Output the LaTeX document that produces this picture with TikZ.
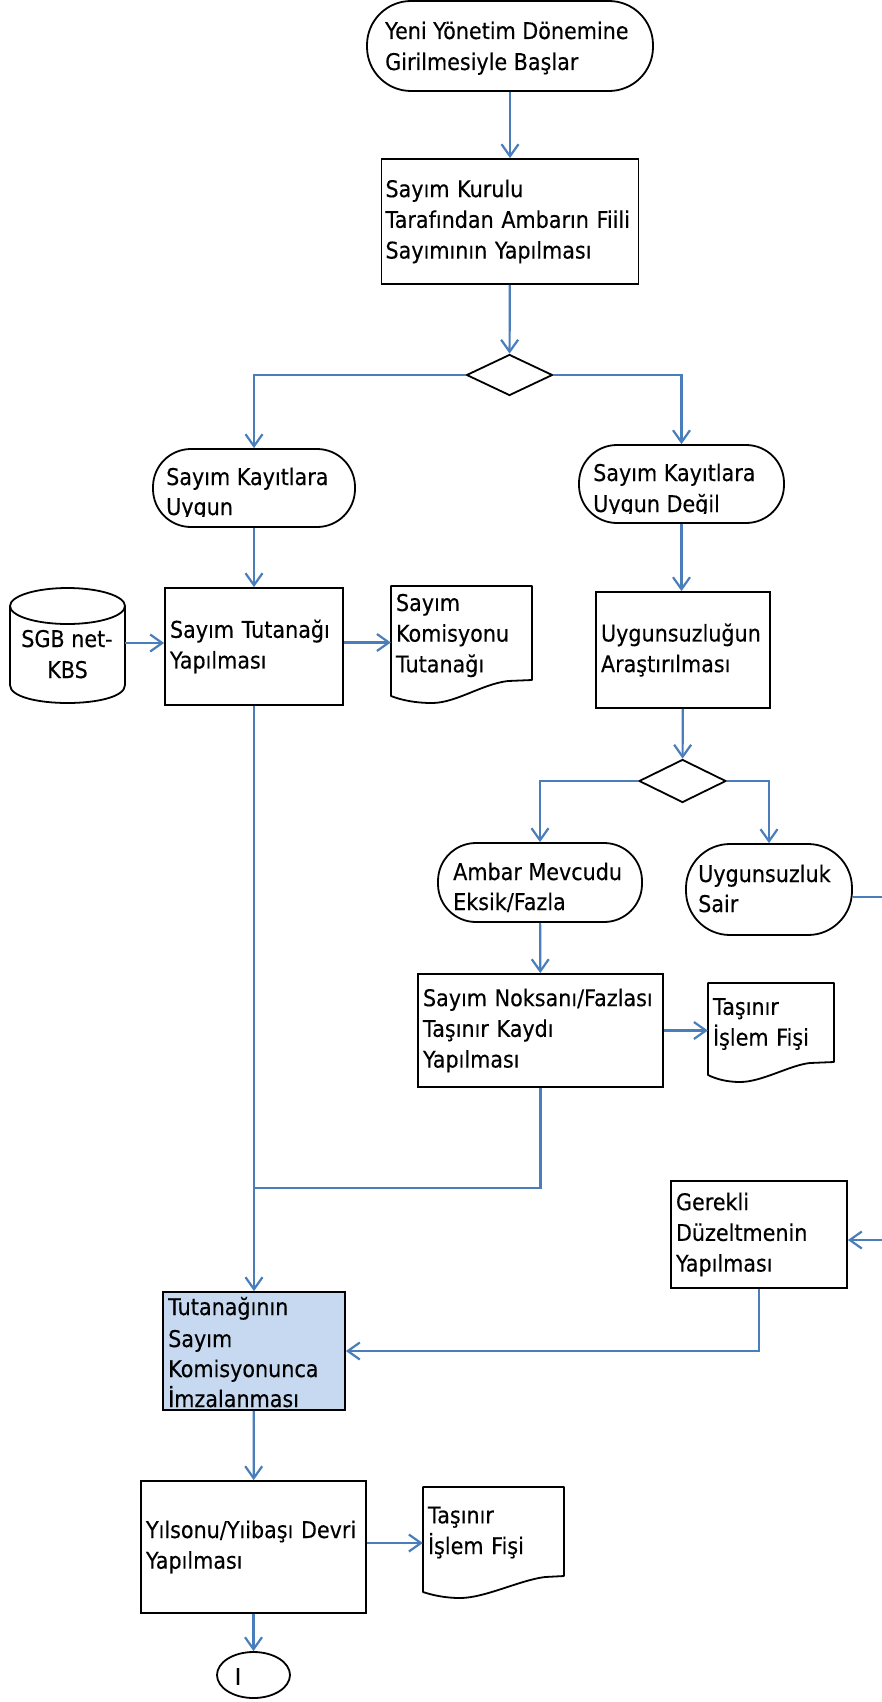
\documentclass[tikz,border=0pt]{standalone}
\usepackage{fontspec}
\setmainfont{DejaVu Sans}[FakeStretch=0.9,FakeBold=0.3]
\usetikzlibrary{arrows.meta,shapes.geometric,calc}
\definecolor{conn}{RGB}{74,126,187}
\definecolor{fillblue}{RGB}{198,217,240}
\begin{document}
\begin{tikzpicture}[x=1pt,y=-1pt,
  every node/.style={font=\fontsize{23}{30.7}\selectfont},
  pbox/.style={draw, line width=1.8pt, rectangle, align=left, inner ysep=0pt, inner xsep=5pt},
  term/.style={draw, line width=1.8pt, rectangle, inner sep=0pt},
  dia/.style={draw, line width=1.8pt, diamond, inner sep=0pt},
  lbl/.style={anchor=base west, inner sep=0pt},
  clbl/.style={anchor=base, inner sep=0pt},
  docn/.style={rectangle, align=left, inner ysep=0pt, inner xsep=5pt},
  flow/.style={draw=conn, line width=2.2pt, -{Straight Barb[length=12pt,width=17pt]}},
  wire/.style={draw=conn, line width=2.2pt},
  shp/.style={draw, line width=1.8pt, line join=round}
]
\useasboundingbox (0,0) rectangle (882,1702);

% start terminal
\node[term, rounded corners=44pt, minimum width=286pt, minimum height=90pt] (start) at (510,46) {};
\node[lbl] (start1) at (385,39) {Yeni Yönetim Dönemine};
\node[lbl] (start2) at (385,70) {Girilmesiyle Başlar};

\node[pbox, minimum width=257pt, minimum height=125pt, text width=249pt, inner xsep=4pt] (b2) at (510,221.5) {Sayım Kurulu\\Tarafından Ambarın Fiili\\Sayımının Yapılması};

\node[dia, minimum width=86pt, minimum height=41pt] (d1) at (509.5,375) {};

% left terminal
\node[term, rounded corners=38pt, minimum width=202pt, minimum height=78pt] (tl) at (254,488) {};
\begin{scope}
\clip (150,440) rectangle (360,516);
\node[lbl] (tl1) at (166,485) {Sayım Kayıtlara};
\node[lbl] (tl2) at (166,515) {Uygun};
\end{scope}

% right terminal
\node[term, rounded corners=38pt, minimum width=205pt, minimum height=78pt] (tr) at (681.5,484) {};
\begin{scope}
\clip (575,440) rectangle (790,513);
\node[lbl] (tr1) at (593,481) {Sayım Kayıtlara};
\node[lbl] (tr2) at (593,512) {Uygun Değil};
\end{scope}

\node[pbox, minimum width=178pt, minimum height=117pt, text width=168pt] (bt) at (254,646.5) {Sayım Tutanağı\\Yapılması};

% cylinder
\node[minimum width=115pt, minimum height=115pt, inner sep=0pt] (cyl) at (67.5,645.5) {};
\draw[shp] (67.5,606) ellipse [x radius=57.5, y radius=18];
\draw[shp] (10,606) -- (10,685) .. controls (10,709) and (125,709) .. (125,685) -- (125,606);
\node[clbl] (cyl1) at (67,647) {SGB net-};
\node[clbl] (cyl2) at (67.5,678) {KBS};

% document 1
\draw[shp] (391,586) -- (532,586) -- (532,680) -- (508,681) .. controls (482,684) and (456,703) .. (432,703) .. controls (415,703) and (401,700) .. (391,696) -- cycle;
\node[docn, minimum width=141pt, minimum height=99pt, text width=131pt] (dc1) at (461.5,635.5) {Sayım\\Komisyonu\\Tutanağı};

\node[pbox, minimum width=174pt, minimum height=116pt, text width=164pt] (bu) at (683,650) {Uygunsuzluğun\\Araştırılması};

\node[dia, minimum width=87pt, minimum height=43pt] (d2) at (682.5,781) {};

\node[term, rounded corners=38pt, minimum width=204pt, minimum height=79pt] (ta) at (540,882.5) {};
\node[lbl] (ta1) at (453,880) {Ambar Mevcudu};
\node[lbl] (ta2) at (453,910) {Eksik/Fazla};

\node[term, rounded corners=44pt, minimum width=166pt, minimum height=91pt] (ts) at (769,889.5) {};
\node[lbl] (ts1) at (698,882) {Uygunsuzluk};
\node[lbl] (ts2) at (698,912) {Sair};

\node[pbox, minimum width=245pt, minimum height=113pt, text width=235pt] (bn) at (540.5,1030.5) {Sayım Noksanı/Fazlası\\Taşınır Kaydı\\Yapılması};

% document 2
\draw[shp] (708,983) -- (834,983) -- (834,1062) -- (810,1063) .. controls (790,1065) and (762,1082) .. (740,1082) .. controls (727,1082) and (716,1079) .. (708,1075) -- cycle;
\node[docn, minimum width=126pt, minimum height=82pt, text width=116pt] (dc2) at (771,1024) {Taşınır\\İşlem Fişi};

\node[pbox, minimum width=176pt, minimum height=107pt, text width=166pt] (bg) at (759,1234.5) {Gerekli\\Düzeltmenin\\Yapılması};

% signed box
\node[draw, line width=1.8pt, fill=fillblue, minimum width=182pt, minimum height=118pt, inner sep=0pt] (bi) at (254,1351) {};
\node[lbl] (bi1) at (168,1315) {Tutanağının};
\node[lbl] (bi2) at (168,1347) {Sayım};
\node[lbl] (bi3) at (168,1377) {Komisyonunca};
\node[lbl] (bi4) at (168,1407) {İmzalanması};

\node[pbox, minimum width=225pt, minimum height=132pt, text width=215pt] (by) at (253.5,1547) {Yılsonu/Yıibaşı Devri\\Yapılması};

% document 3
\draw[shp] (423,1487) -- (564,1487) -- (564,1576) -- (545,1577) .. controls (520,1580) and (485,1598) .. (460,1598) .. controls (445,1598) and (432,1595) .. (423,1592) -- cycle;
\node[docn, minimum width=141pt, minimum height=91pt, text width=131pt] (dc3) at (493.5,1532.5) {Taşınır\\İşlem Fişi};

\node[draw, line width=1.8pt, ellipse, minimum width=73pt, minimum height=46pt, inner sep=0pt] (en) at (253.5,1675) {};
\node[inner sep=0pt] (ent) at (238,1676.5) {I};

% coordinates
\coordinate (jn) at (254,1188);
\coordinate (offA) at (882,897);
\coordinate (offB) at (882,1240);
\coordinate (cylE) at ($(cyl.east)+(0,-2.5)$);
\coordinate (btE) at ($(bt.east)+(0,-4)$);
\coordinate (byE) at ($(by.east)+(0,-4)$);

% connectors
\draw[flow] (start) -- (b2);
\draw[flow] (b2) -- (d1);
\draw[flow] (d1.west) -| (tl.north);
\draw[flow] (d1.east) -| (tr.north);
\draw[flow] (tl) -- (bt);
\draw[flow] (tr.south) -- (tr.south |- bu.north);
\draw[flow] (bu) -- (d2);
\draw[flow] (d2.west) -| (ta.north);
\draw[flow] (d2.east) -| (ts.north);
\draw[flow] (ta) -- (bn);
\draw[flow] (cylE) -- (cylE -| bt.west);
\draw[flow] (btE) -- (btE -| dc1.west);
\draw[flow] (bn.east) -- (bn.east -| dc2.west);
\draw[wire] (bn.south) |- (jn);
\draw[flow] (bt) -- (bi);
\draw[wire] (ts.east |- offA) -- (offA);
\draw[flow] (offB) -- (offB -| bg.east);
\draw[flow] (bg.south) |- (bi.east);
\draw[flow] (bi) -- (by);
\draw[flow] (byE) -- (byE -| dc3.west);
\draw[flow] (by) -- (en);
\end{tikzpicture}
\end{document}
